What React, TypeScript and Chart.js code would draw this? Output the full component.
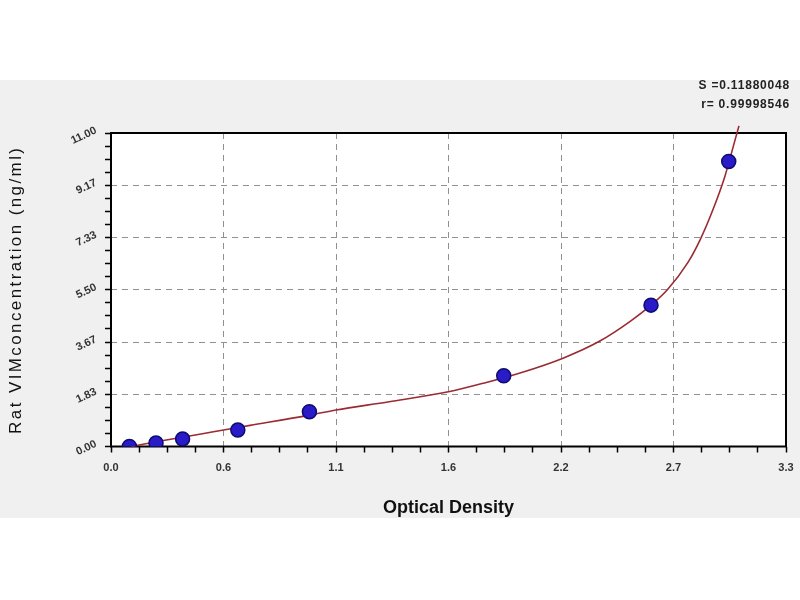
import React, { useEffect, useRef } from "react";
import { Chart, registerables } from "chart.js";

Chart.register(...registerables);

// Standard points (Optical Density vs concentration)
const odValues = [0.09, 0.22, 0.35, 0.62, 0.97, 1.92, 2.64, 3.02];
const concValues = [0.0, 0.12, 0.26, 0.58, 1.22, 2.48, 4.96, 10.0];

// Fitted curve
const curveOd = [0.1, 0.27, 0.44, 0.55, 0.68, 0.97, 1.1, 1.36, 1.65, 1.82, 2.0, 2.21, 2.39, 2.54, 2.64, 2.72, 2.82, 2.88, 2.945, 3.0, 3.02, 3.045, 3.07];
const curveConc = [0.0, 0.23, 0.44, 0.58, 0.74, 1.1, 1.28, 1.57, 1.92, 2.22, 2.58, 3.1, 3.7, 4.4, 4.96, 5.5, 6.45, 7.25, 8.35, 9.45, 9.95, 10.6, 11.25];

// Axis ticks
const xMajorTicks = [0, 0.55, 1.1, 1.65, 2.2, 2.75, 3.3];
const xTickLabels = ["0.0", "0.6", "1.1", "1.6", "2.2", "2.7", "3.3"];
const yMajorTicks = [0, 11 / 6, 22 / 6, 5.5, 44 / 6, 55 / 6, 11];
const yTickLabels = ["0.00", "1.83", "3.67", "5.50", "7.33", "9.17", "11.00"];
const MINOR_DIV = 4;

const xTitle = "Optical Density";
const yTitle = "Rat VIMconcentration (ng/ml)";
const statLines = ["S =0.11880048", "r= 0.99998546"];

function withMinor(major: number[]): number[] {
  const out: number[] = [];
  for (let i = 0; i < major.length - 1; i++) {
    const a = major[i];
    const b = major[i + 1];
    for (let k = 0; k < MINOR_DIV; k++) out.push(a + ((b - a) * k) / MINOR_DIV);
  }
  out.push(major[major.length - 1]);
  return out;
}

const FONT = "'Liberation Sans', Arial, sans-serif";

const decorPlugin = {
  id: "decor",
  beforeDraw(chart: any) {
    const { ctx, width, height, chartArea } = chart;
    ctx.save();
    ctx.fillStyle = "#ffffff";
    ctx.fillRect(0, 0, width, height);
    ctx.fillStyle = "#f0f0f0";
    ctx.fillRect(0, 80, width, 438);
    ctx.fillStyle = "#ffffff";
    ctx.fillRect(chartArea.left, chartArea.top, chartArea.right - chartArea.left, chartArea.bottom - chartArea.top);
    ctx.restore();
  },
  beforeDatasetsDraw(chart: any) {
    const { ctx, chartArea } = chart;
    ctx.save();
    ctx.strokeStyle = "#000000";
    ctx.lineWidth = 2;
    ctx.strokeRect(chartArea.left, chartArea.top, chartArea.right - chartArea.left, chartArea.bottom - chartArea.top);
    ctx.restore();
  },
  afterDraw(chart: any) {
    const { ctx, chartArea } = chart;
    const yScale = chart.scales.y;
    ctx.save();
    // rotated y tick labels
    ctx.fillStyle = "#333333";
    ctx.font = `bold 11px ${FONT}`;
    ctx.textAlign = "right";
    ctx.textBaseline = "middle";
    yMajorTicks.forEach((v, i) => {
      const py = yScale.getPixelForValue(v);
      ctx.save();
      ctx.translate(chartArea.left - 15, py - 3);
      ctx.rotate((-25 * Math.PI) / 180);
      ctx.fillText(yTickLabels[i], 0, 0);
      ctx.restore();
    });
    // y title
    ctx.fillStyle = "#111111";
    ctx.font = `17px ${FONT}`;
    (ctx as any).letterSpacing = "2.4px";
    ctx.save();
    ctx.translate(16, (chartArea.top + chartArea.bottom) / 2);
    ctx.rotate(-Math.PI / 2);
    ctx.textAlign = "center";
    ctx.textBaseline = "middle";
    ctx.fillText(yTitle, 0, 0);
    ctx.restore();
    (ctx as any).letterSpacing = "0px";
    // x title
    ctx.font = `bold 18px ${FONT}`;
    ctx.textAlign = "center";
    ctx.textBaseline = "middle";
    ctx.fillText(xTitle, (chartArea.left + chartArea.right) / 2, 508);
    // stats
    ctx.font = `bold 12px ${FONT}`;
    (ctx as any).letterSpacing = "0.8px";
    ctx.fillStyle = "#222222";
    ctx.textAlign = "right";
    ctx.fillText(statLines[0], 790, 86);
    ctx.fillText(statLines[1], 790, 105);
    (ctx as any).letterSpacing = "0px";
    ctx.restore();
  },
};

export default function App() {
  const canvasRef = useRef<HTMLCanvasElement | null>(null);

  useEffect(() => {
    if (!canvasRef.current) return;
    const xAll = withMinor(xMajorTicks);
    const yAll = withMinor(yMajorTicks);
    const chart = new Chart(canvasRef.current, {
      type: "scatter",
      data: {
        datasets: [
          {
            label: "Standards",
            data: odValues.map((x, i) => ({ x, y: concValues[i] })),
            pointRadius: 7,
            pointHoverRadius: 7,
            pointBackgroundColor: "#2a1bc9",
            pointBorderColor: "#0d0b6e",
            pointBorderWidth: 1.5,
            showLine: false,
            order: 0,
          },
          {
            label: "Fit",
            data: curveOd.map((x, i) => ({ x, y: curveConc[i] })),
            showLine: true,
            borderColor: "#9b2b33",
            borderWidth: 1.6,
            pointRadius: 0,
            cubicInterpolationMode: "monotone",
            clip: { left: 5, top: 12, right: 5, bottom: 5 },
            order: 1,
          } as any,
        ],
      },
      options: {
        animation: false,
        responsive: false,
        maintainAspectRatio: false,
        layout: { padding: { left: 0, top: 133, right: 14, bottom: 0 } },
        plugins: {
          legend: { display: false },
          tooltip: { enabled: false },
        },
        scales: {
          x: {
            type: "linear",
            min: 0,
            max: 3.3,
            afterBuildTicks: (s: any) => {
              s.ticks = xAll.map((v) => ({ value: v }));
            },
            afterFit: (s: any) => {
              s.height = 153.5;
              s.paddingLeft = 0;
              s.paddingRight = 0;
            },
            ticks: {
              autoSkip: false,
              maxRotation: 0,
              minRotation: 0,
              padding: 9,
              color: "#333333",
              font: { family: FONT, size: 11, weight: "bold" },
              callback: (_v: any, i: number) => (i % MINOR_DIV === 0 ? xTickLabels[i / MINOR_DIV] : ""),
            },
            grid: {
              color: (c: any) => (c.index % MINOR_DIV === 0 && c.index > 0 && c.index < xAll.length - 1 ? "#909090" : "transparent"),
              lineWidth: 1,
              tickColor: "#000000",
              tickLength: 6,
              tickWidth: 1.5,
            },
            border: { display: false, dash: [6, 5] },
          },
          y: {
            type: "linear",
            min: 0,
            max: 11,
            afterBuildTicks: (s: any) => {
              s.ticks = yAll.map((v) => ({ value: v }));
            },
            afterFit: (s: any) => {
              s.width = 111;
              s.paddingTop = 0;
              s.paddingBottom = 0;
            },
            ticks: {
              display: false,
              autoSkip: false,
            },
            grid: {
              color: (c: any) => (c.index % MINOR_DIV === 0 && c.index > 0 && c.index < yAll.length - 1 ? "#909090" : "transparent"),
              lineWidth: 1,
              tickColor: "#000000",
              tickLength: 6,
              tickWidth: 1.5,
            },
            border: { display: false, dash: [6, 5] },
          },
        },
      },
      plugins: [decorPlugin],
    });
    return () => chart.destroy();
  }, []);

  return (
    <div style={{ position: "absolute", left: 0, top: 0, width: 800, height: 600, background: "#ffffff" }}>
      <canvas ref={canvasRef} width={800} height={600} style={{ display: "block" }} />
    </div>
  );
}
